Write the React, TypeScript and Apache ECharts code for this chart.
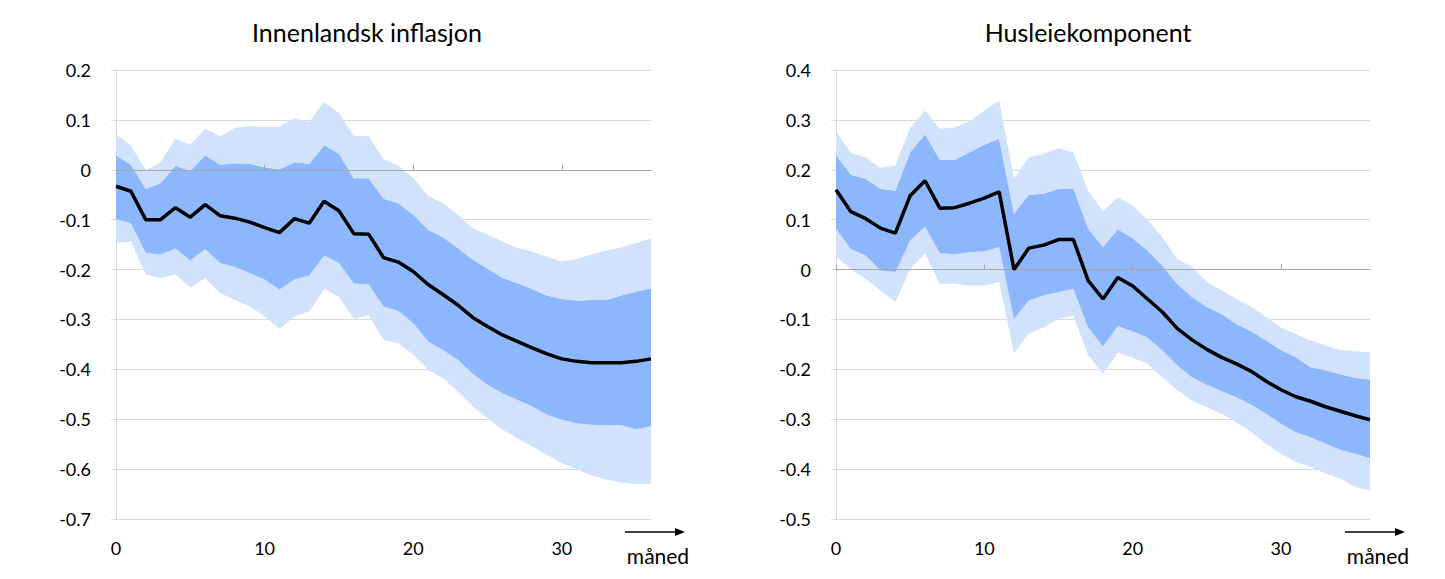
import React, { useEffect, useRef } from "react";
import * as echarts from "echarts";

const months: string[] = Array.from({ length: 37 }, (_, i) => String(i));

const titleLeft = "Innenlandsk inflasjon";
const titleRight = "Husleiekomponent";
const xUnit = "måned";

// Innenlandsk inflasjon
const medianL = [-0.033,-0.043,-0.100,-0.100,-0.076,-0.095,-0.070,-0.092,-0.097,-0.105,-0.116,-0.126,-0.098,-0.107,-0.063,-0.082,-0.128,-0.129,-0.176,-0.185,-0.204,-0.230,-0.250,-0.271,-0.296,-0.314,-0.331,-0.344,-0.357,-0.369,-0.379,-0.384,-0.387,-0.387,-0.387,-0.384,-0.379];
const upperDarkL = [0.029,0.010,-0.038,-0.027,0.008,-0.002,0.029,0.010,0.013,0.012,0.005,0.001,0.015,0.012,0.049,0.032,-0.017,-0.017,-0.058,-0.067,-0.090,-0.120,-0.135,-0.157,-0.180,-0.198,-0.217,-0.227,-0.239,-0.252,-0.259,-0.262,-0.261,-0.261,-0.252,-0.244,-0.238];
const lowerDarkL = [-0.099,-0.107,-0.167,-0.170,-0.158,-0.182,-0.159,-0.187,-0.195,-0.207,-0.220,-0.240,-0.220,-0.212,-0.172,-0.187,-0.228,-0.230,-0.274,-0.283,-0.307,-0.344,-0.361,-0.381,-0.409,-0.431,-0.448,-0.461,-0.474,-0.491,-0.501,-0.508,-0.511,-0.512,-0.512,-0.520,-0.514];
const upperLightL = [0.070,0.049,-0.001,0.015,0.062,0.050,0.082,0.067,0.084,0.087,0.086,0.086,0.103,0.096,0.136,0.114,0.068,0.067,0.021,0.008,-0.017,-0.052,-0.067,-0.090,-0.117,-0.130,-0.144,-0.157,-0.164,-0.175,-0.184,-0.179,-0.170,-0.162,-0.156,-0.147,-0.137];
const lowerLightL = [-0.147,-0.144,-0.210,-0.217,-0.210,-0.236,-0.217,-0.247,-0.261,-0.274,-0.294,-0.319,-0.294,-0.284,-0.239,-0.255,-0.299,-0.291,-0.341,-0.347,-0.371,-0.401,-0.418,-0.444,-0.474,-0.498,-0.521,-0.538,-0.555,-0.571,-0.588,-0.600,-0.613,-0.621,-0.627,-0.630,-0.630];

// Husleiekomponent
const medianR = [0.160,0.116,0.102,0.083,0.073,0.148,0.178,0.123,0.124,0.133,0.143,0.156,0.000,0.043,0.049,0.060,0.060,-0.022,-0.059,-0.016,-0.033,-0.059,-0.085,-0.118,-0.141,-0.160,-0.176,-0.189,-0.204,-0.224,-0.241,-0.255,-0.264,-0.275,-0.284,-0.293,-0.301];
const upperDarkR = [0.230,0.190,0.182,0.162,0.158,0.235,0.271,0.220,0.220,0.235,0.250,0.262,0.112,0.150,0.152,0.162,0.163,0.082,0.045,0.081,0.063,0.038,0.008,-0.029,-0.055,-0.075,-0.089,-0.109,-0.124,-0.142,-0.161,-0.176,-0.196,-0.202,-0.210,-0.217,-0.221];
const lowerDarkR = [0.082,0.041,0.028,-0.002,-0.005,0.058,0.086,0.033,0.030,0.035,0.036,0.045,-0.099,-0.062,-0.052,-0.045,-0.039,-0.116,-0.154,-0.113,-0.124,-0.136,-0.162,-0.192,-0.216,-0.231,-0.244,-0.256,-0.271,-0.289,-0.309,-0.326,-0.336,-0.349,-0.361,-0.369,-0.378];
const upperLightR = [0.277,0.233,0.225,0.204,0.208,0.284,0.319,0.282,0.285,0.297,0.319,0.339,0.182,0.225,0.232,0.243,0.235,0.158,0.117,0.145,0.128,0.100,0.065,0.021,0.005,-0.025,-0.042,-0.059,-0.075,-0.095,-0.116,-0.129,-0.142,-0.152,-0.161,-0.164,-0.166];
const lowerLightR = [0.026,0.001,-0.019,-0.042,-0.065,0.001,0.033,-0.029,-0.028,-0.032,-0.032,-0.025,-0.168,-0.128,-0.116,-0.099,-0.092,-0.172,-0.209,-0.167,-0.177,-0.189,-0.216,-0.242,-0.263,-0.276,-0.289,-0.306,-0.326,-0.349,-0.369,-0.385,-0.396,-0.409,-0.419,-0.436,-0.443];

const LIGHT = "#D1E2FD";
const DARK = "#8DB7FC";
const GRID = "#D9D9D9";
const ZERO = "#A6A6A6";
const FONT = "Lato";

const diff = (a: number[], b: number[]) => a.map((v, i) => v - b[i]);

function bandSeries(
  xIdx: number,
  yIdx: number,
  stack: string,
  lowL: number[],
  lowD: number[],
  upD: number[],
  upL: number[],
  med: number[]
) {
  const common = {
    type: "line",
    xAxisIndex: xIdx,
    yAxisIndex: yIdx,
    stack,
    stackStrategy: "all",
    symbol: "none",
    silent: true,
    lineStyle: { opacity: 0, width: 0 },
  };
  return [
    { ...common, name: stack + "base", data: lowL },
    { ...common, name: stack + "b1", data: diff(lowD, lowL), areaStyle: { color: LIGHT, opacity: 1 } },
    { ...common, name: stack + "b2", data: diff(upD, lowD), areaStyle: { color: DARK, opacity: 1 } },
    { ...common, name: stack + "b3", data: diff(upL, upD), areaStyle: { color: LIGHT, opacity: 1 } },
    {
      type: "line",
      name: stack + "median",
      xAxisIndex: xIdx,
      yAxisIndex: yIdx,
      data: med,
      symbol: "none",
      silent: true,
      z: 6,
      lineStyle: { color: "#000", width: 3.5 },
    },
  ];
}

function xAxes(gridIndex: number) {
  return [
    {
      type: "category",
      gridIndex,
      data: months,
      boundaryGap: false,
      position: "bottom",
      axisLine: { show: false, onZero: false },
      axisTick: { show: false },
      splitLine: { show: false },
      axisLabel: { interval: 9, fontSize: 18, color: "#000", fontFamily: FONT, margin: 20 },
    },
    {
      type: "category",
      gridIndex,
      data: months,
      boundaryGap: false,
      position: "top",
      z: 5,
      axisLine: { show: true, onZero: true, lineStyle: { color: ZERO, width: 1 } },
      axisTick: { show: true, interval: 9, length: 5, lineStyle: { color: ZERO } },
      axisLabel: { show: false },
      splitLine: { show: false },
    },
  ];
}

function yAxis(gridIndex: number, min: number, max: number) {
  return {
    type: "value",
    gridIndex,
    min,
    max,
    interval: 0.1,
    axisLine: { show: true, lineStyle: { color: GRID } },
    axisTick: { show: true, length: 5, lineStyle: { color: GRID } },
    splitLine: { show: true, lineStyle: { color: GRID, width: 1 } },
    axisLabel: {
      fontSize: 18,
      color: "#000",
      fontFamily: FONT,
      margin: 25,
      formatter: (v: number) => (Math.abs(v) < 1e-9 ? "0" : v.toFixed(1)),
    },
  };
}

function arrow(x: number, label: string) {
  return [
    { type: "line", shape: { x1: x, y1: 532, x2: x + 51, y2: 532 }, style: { stroke: "#000", lineWidth: 1.3 } },
    { type: "polygon", shape: { points: [[x + 50, 528], [x + 60, 532], [x + 50, 536]] }, style: { fill: "#000" } },
    {
      type: "text",
      x: x + 33,
      y: 555,
      style: { text: label, fontSize: 21, fontFamily: FONT, fill: "#000", align: "center", verticalAlign: "middle" },
    },
  ];
}

export default function App() {
  const ref = useRef<HTMLDivElement>(null);
  useEffect(() => {
    if (!ref.current) return;
    const chart = echarts.init(ref.current, null, { renderer: "svg" });
    chart.setOption({
      animation: false,
      backgroundColor: "#fff",
      textStyle: { fontFamily: FONT },
      title: [
        {
          text: titleLeft,
          left: 362,
          top: 14,
          textAlign: "center",
          textStyle: { fontSize: 25, fontWeight: "normal", color: "#000", fontFamily: FONT },
        },
        {
          text: titleRight,
          left: 1083,
          top: 14,
          textAlign: "center",
          textStyle: { fontSize: 25, fontWeight: "normal", color: "#000", fontFamily: FONT },
        },
      ],
      grid: [
        { left: 116, top: 70, width: 535, height: 449 },
        { left: 836, top: 70, width: 534, height: 449 },
      ],
      xAxis: [...xAxes(0), ...xAxes(1)],
      yAxis: [yAxis(0, -0.7, 0.2), yAxis(1, -0.5, 0.4)],
      series: [
        ...bandSeries(0, 0, "L", lowerLightL, lowerDarkL, upperDarkL, upperLightL, medianL),
        ...bandSeries(2, 1, "R", lowerLightR, lowerDarkR, upperDarkR, upperLightR, medianR),
      ],
      graphic: [...arrow(625, xUnit), ...arrow(1345, xUnit)],
    });
    return () => chart.dispose();
  }, []);
  return (
    <div
      ref={ref}
      style={{ position: "fixed", left: 0, top: 0, width: 1445, height: 579, background: "#fff" }}
    />
  );
}
